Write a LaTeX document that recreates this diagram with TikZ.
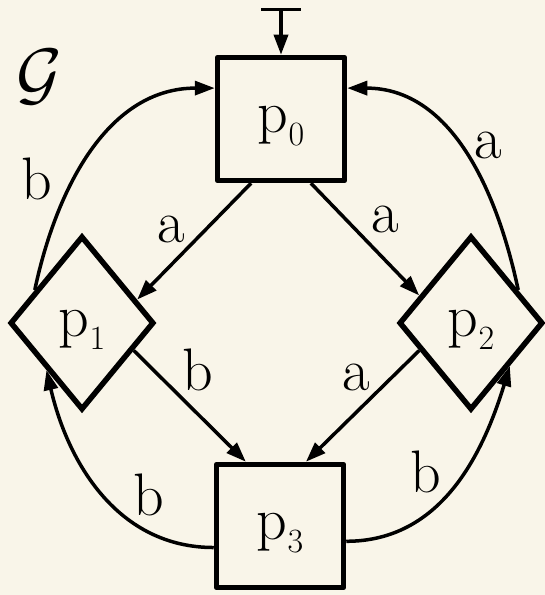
\RequirePackage{fix-cm}
\documentclass[tikz,border=0pt]{standalone}
\usepackage{fontspec}
\usepackage{xcolor}
\definecolor{paperBack}{HTML}{F9F5E9}
\usetikzlibrary{arrows.meta, positioning, shapes.geometric}
\newcommand{\statefont}{\fontsize{60}{70}\selectfont}
\newcommand{\pname}[1]{p\raisebox{-13pt}{\fontsize{34}{34}\selectfont #1}}
\tikzset{
    state/.style={draw, line width=5.5pt, inner sep=0pt, text depth=0pt,
                  font=\statefont},
    sbox/.style={state, rectangle, line join=round,
                 minimum width=127pt, minimum height=123pt},
    sdiam/.style={state, diamond, aspect=0.83,
                  minimum width=144pt, minimum height=174pt},
    edge/.style={-{Triangle[length=20pt,width=14pt]}, line width=3.5pt},
    initedge/.style={{Bar[width=40pt]}-{Triangle[length=20pt,width=14pt]},
                     line width=3.5pt},
    lbl/.style={font=\statefont, inner sep=2pt},
}

\begin{document}
\begin{tikzpicture}[x=1pt, y=1pt]
    \useasboundingbox[fill=paperBack] (0,0) rectangle (545,595);
    \node[sbox] (p0) at (281,476) {\pname{0}};
    \node[sdiam] (p1) at (82,272) {\pname{1}};
    \node[sdiam] (p2) at (471,272) {\pname{2}};
    \node[sbox] (p3) at (280,69) {\pname{3}};
    \coordinate (init) at (281,587);
    \node[font=\fontsize{70}{70}\selectfont] (gname) at (39,518) {$\mathcal{G}$};

    \draw[initedge] (init) -- (p0);
    \draw[edge] (p0.245) -- node[lbl, pos=0.55, above left] {a} (p1.23);
    \draw[edge] (p0.295) -- node[lbl, above right=4pt] {a} (p2.152);
    \draw[edge] (p1.-28) -- node[lbl, pos=0.4, above right] {b} (p3.118);
    \draw[edge] (p2.208) -- node[lbl, pos=0.4, above left] {a} (p3.68);
    \draw[edge] (p1.145) to[out=78, in=180]
        node[lbl, pos=0.38, left=18pt] {b} (p0.155);
    \draw[edge] (p2.35) to[out=102, in=0]
        node[lbl, pos=0.45, above right] {a} (p0.25);
    \draw[edge] (p3.198) to[out=180, in=-77]
        node[lbl, pos=0.35, above right] {b} (p1.233);
    \draw[edge] (p3.-13) to[out=0, in=-107]
        node[lbl, pos=0.45, above left] {b} (p2.-48);
\end{tikzpicture}
\end{document}
